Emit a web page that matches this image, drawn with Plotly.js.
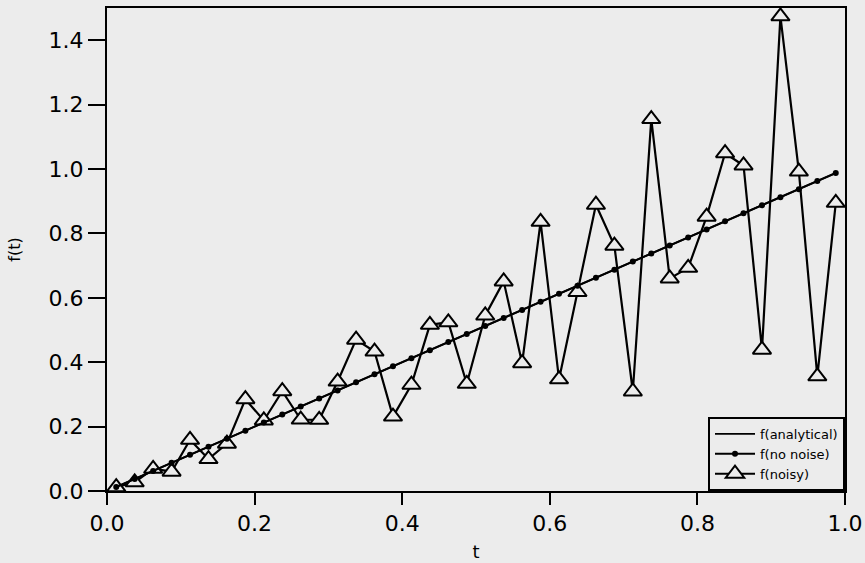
<!DOCTYPE html>
<html>
<head>
<meta charset="utf-8">
<script src="https://cdn.plot.ly/plotly-3.0.1.min.js"></script>
<style>
  html, body { margin: 0; padding: 0; background: #ececec; }
  #chart { width: 865px; height: 563px; }
</style>
</head>
<body>
<div id="chart"></div>
<script>
// time samples
const tValues = [0.0125, 0.0375, 0.0625, 0.0875, 0.1125, 0.1375, 0.1625, 0.1875, 0.2125, 0.2375,
                 0.2625, 0.2875, 0.3125, 0.3375, 0.3625, 0.3875, 0.4125, 0.4375, 0.4625, 0.4875,
                 0.5125, 0.5375, 0.5625, 0.5875, 0.6125, 0.6375, 0.6625, 0.6875, 0.7125, 0.7375,
                 0.7625, 0.7875, 0.8125, 0.8375, 0.8625, 0.8875, 0.9125, 0.9375, 0.9625, 0.9875];
// analytical f(t)
const tAnalytical = [0.0125, 0.9875];
const fAnalytical = [0.0125, 0.9875];
// reconstruction without noise
const fNoNoise = [0.0125, 0.0375, 0.0625, 0.0875, 0.1125, 0.1375, 0.1625, 0.1875, 0.2125, 0.2375,
                  0.2625, 0.2875, 0.3125, 0.3375, 0.3625, 0.3875, 0.4125, 0.4375, 0.4625, 0.4875,
                  0.5125, 0.5375, 0.5625, 0.5875, 0.6125, 0.6375, 0.6625, 0.6875, 0.7125, 0.7375,
                  0.7625, 0.7875, 0.8125, 0.8375, 0.8625, 0.8875, 0.9125, 0.9375, 0.9625, 0.9875];
// reconstruction with noisy data
const fNoisy = [0.012, 0.027, 0.069, 0.060, 0.159, 0.099, 0.147, 0.285, 0.219, 0.310,
                0.222, 0.221, 0.340, 0.470, 0.433, 0.231, 0.330, 0.516, 0.524, 0.333,
                0.545, 0.651, 0.397, 0.836, 0.347, 0.618, 0.889, 0.762, 0.309, 1.155,
                0.660, 0.693, 0.852, 1.049, 1.011, 0.439, 1.474, 0.992, 0.356, 0.895];
const xTickVals = [0, 0.2, 0.4, 0.6, 0.8, 1.0];
const xTickText = ['0.0', '0.2', '0.4', '0.6', '0.8', '1.0'];
const yTickVals = [0, 0.2, 0.4, 0.6, 0.8, 1.0, 1.2, 1.4];
const yTickText = ['0.0', '0.2', '0.4', '0.6', '0.8', '1.0', '1.2', '1.4'];

const bg = '#ececec';
const fam = 'DejaVu Sans, Arial, sans-serif';
const tickFont = {family: fam, size: 22, color: '#000'};

const traces = [
  {
    x: tValues, y: fNoisy, name: 'f(noisy)', type: 'scatter', mode: 'lines+markers',
    legendrank: 3,
    line: {color: '#000', width: 2.2},
    marker: {symbol: 'triangle-up', size: 16, color: bg, line: {color: '#000', width: 2}}
  },
  {
    x: tAnalytical, y: fAnalytical, name: 'f(analytical)', type: 'scatter', mode: 'lines',
    legendrank: 1,
    line: {color: '#000', width: 1.8}
  },
  {
    x: tValues, y: fNoNoise, name: 'f(no noise)', type: 'scatter', mode: 'lines+markers',
    legendrank: 2,
    line: {color: '#000', width: 2},
    marker: {symbol: 'circle', size: 6, color: '#000'}
  }
];

const layout = {
  width: 865, height: 563,
  paper_bgcolor: bg, plot_bgcolor: bg,
  margin: {l: 107, r: 20, t: 8, b: 72},
  showlegend: true,
  legend: {
    x: 1, y: 0, xanchor: 'right', yanchor: 'bottom',
    bgcolor: bg, bordercolor: '#000', borderwidth: 2,
    font: {family: fam, size: 13, color: '#000'},
    itemwidth: 40,
    tracegroupgap: 0
  },
  xaxis: {
    range: [0, 1], tickvals: xTickVals, ticktext: xTickText,
    showline: true, linecolor: '#000', linewidth: 2, mirror: true,
    ticks: 'outside', ticklen: 12, tickwidth: 2, tickcolor: '#000',
    showgrid: false, zeroline: false, tickfont: tickFont,
    title: {text: 't', font: {family: fam, size: 18, color: '#000'}, standoff: 10}
  },
  yaxis: {
    range: [0, 1.5], tickvals: yTickVals, ticktext: yTickText,
    showline: true, linecolor: '#000', linewidth: 2, mirror: true,
    ticks: 'outside', ticklen: 17, tickwidth: 2, tickcolor: '#000',
    showgrid: false, zeroline: false, tickfont: tickFont,
    title: {text: 'f(t)', font: {family: fam, size: 16, color: '#000'}, standoff: 24}
  }
};

Plotly.newPlot('chart', traces, layout, {displayModeBar: false, staticPlot: true});
</script>
</body>
</html>
